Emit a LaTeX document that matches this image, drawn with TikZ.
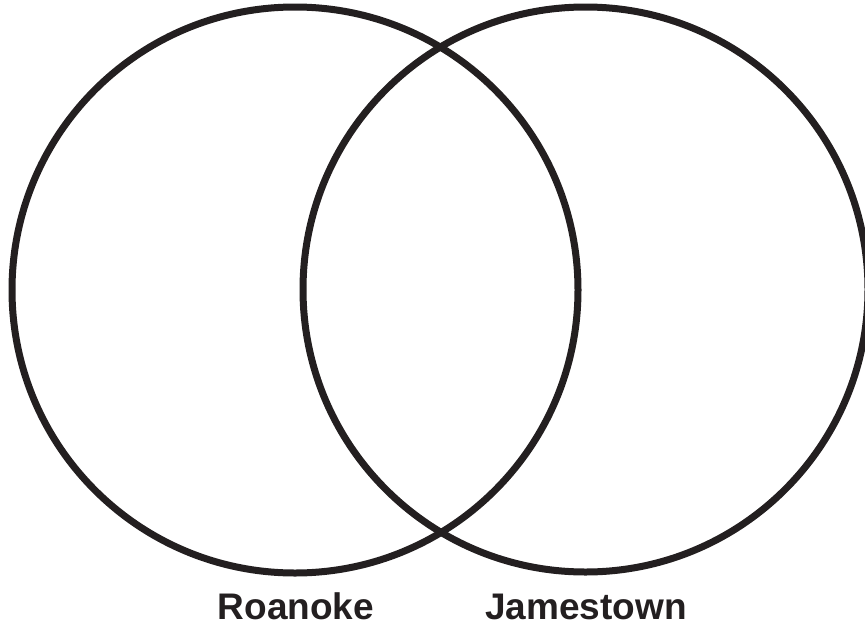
\documentclass[tikz,border=0pt]{standalone}
\usepackage{fontspec}
\setmainfont{Liberation Sans}
\definecolor{ink}{RGB}{35,31,32}
\begin{document}
\begin{tikzpicture}[x=1pt,y=-1pt,
  ring/.style={draw=ink,line width=7pt},
  lbl/.style={anchor=base,inner sep=0pt,font=\bfseries\fontsize{37}{40}\selectfont,text=ink}]
\useasboundingbox (0,0) rectangle (865,627);
\draw[ring] (295,290) circle[radius=283];
\draw[ring] (585.5,289.5) circle[radius=282.5];
\node[lbl] (roanoke) at (296,619) {Roanoke};
\node[lbl] (jamestown) at (586,619) {Jamestown};
\end{tikzpicture}
\end{document}
